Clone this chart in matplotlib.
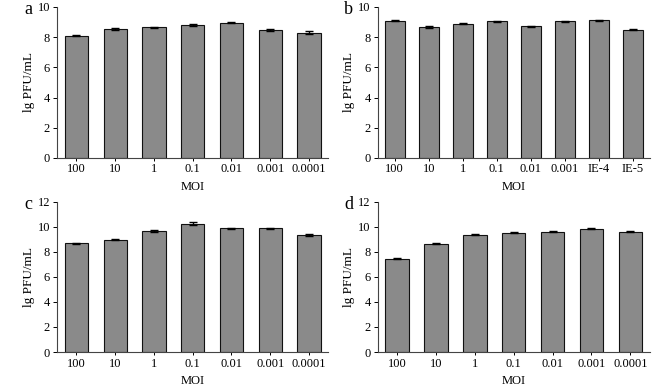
import matplotlib
matplotlib.use('Agg')
import matplotlib.pyplot as plt

plt.rcParams['font.family'] = ['Liberation Serif', 'DejaVu Serif']

moi_7 = ['100', '10', '1', '0.1', '0.01', '0.001', '0.0001']
moi_8 = ['100', '10', '1', '0.1', '0.01', '0.001', 'IE-4', 'IE-5']

vals_a = [8.10, 8.55, 8.65, 8.80, 8.95, 8.50, 8.30]
err_a = [0.05, 0.05, 0.05, 0.04, 0.04, 0.06, 0.09]

vals_b = [9.10, 8.68, 8.90, 9.05, 8.72, 9.05, 9.12, 8.50]
err_b = [0.04, 0.07, 0.06, 0.04, 0.04, 0.04, 0.04, 0.03]

vals_c = [8.70, 8.97, 9.70, 10.25, 9.90, 9.90, 9.35]
err_c = [0.05, 0.05, 0.07, 0.12, 0.04, 0.04, 0.06]

vals_d = [7.45, 8.65, 9.38, 9.55, 9.62, 9.85, 9.62]
err_d = [0.05, 0.05, 0.05, 0.07, 0.04, 0.05, 0.05]

panels = [
    ('a', moi_7, vals_a, err_a, 10, [0.0857, 0.592, 0.408, 0.390]),
    ('b', moi_8, vals_b, err_b, 10, [0.568, 0.592, 0.409, 0.390]),
    ('c', moi_7, vals_c, err_c, 12, [0.0857, 0.0904, 0.408, 0.388]),
    ('d', moi_7, vals_d, err_d, 12, [0.568, 0.0904, 0.409, 0.388]),
]

fig = plt.figure(figsize=(6.65, 3.87), dpi=100)

for letter, labels, vals, errs, ymax, pos in panels:
    ax = fig.add_axes(pos)
    x = range(len(vals))
    ax.bar(x, vals, width=0.6, color='#8a8a8a', edgecolor='#111111', linewidth=0.8,
           yerr=errs, capsize=2.8, error_kw=dict(elinewidth=1.0, capthick=1.0, ecolor='black'))
    ax.set_xlim(-0.5, len(vals) - 0.5)
    ax.set_ylim(0, ymax)
    ax.set_yticks(range(0, ymax + 1, 2))
    ax.set_xticks(list(x))
    ax.set_xticklabels(labels)
    for s in ['top', 'right']:
        ax.spines[s].set_visible(False)
    for s in ['left', 'bottom']:
        ax.spines[s].set_linewidth(0.8)
        ax.spines[s].set_color('#444444')
    ax.tick_params(axis='y', direction='out', length=3, width=0.7, labelsize=9, pad=2)
    ax.tick_params(axis='x', direction='out', length=2, width=0.7, labelsize=9, pad=2)
    ax.set_xlabel('MOI', fontsize=9, labelpad=4)
    ax.set_ylabel('lg PFU/mL', fontsize=9.5, labelpad=2)
    ax.text(-0.09, 0.98, letter, transform=ax.transAxes,
            fontsize=13, ha='right', va='center')

fig.savefig('out.png', dpi=100)
